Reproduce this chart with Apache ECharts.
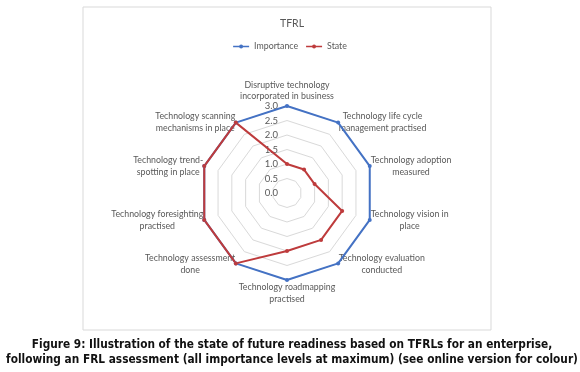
<!DOCTYPE html>
<html>
<head>
<meta charset="utf-8">
<script src="https://cdn.jsdelivr.net/npm/echarts@6/dist/echarts.min.js"></script>
<style>
html,body{margin:0;padding:0;background:#fff;}
#c{width:580px;height:372px;}
</style>
</head>
<body>
<div id="c"></div>
<script>
const categories = [
  "Disruptive technology\nincorporated in business",
  "Technology life cycle\nmanagement practised",
  "Technology adoption\nmeasured",
  "Technology vision in\nplace",
  "Technology evaluation\nconducted",
  "Technology roadmapping\npractised",
  "Technology assessment\ndone",
  "Technology foresighting\npractised",
  "Technology trend-\nspotting in place",
  "Technology scanning\nmechanisms in place"
];
const importanceValues = [3, 3, 3, 3, 3, 3, 3, 3, 3, 3];
const stateValues = [1.0, 1.0, 1.0, 2.0, 2.0, 2.0, 3.0, 3.0, 3.0, 3.0];
const seriesNames = ["Importance", "State"];
const tickLabels = ["0.0", "0.5", "1.0", "1.5", "2.0", "2.5", "3.0"];
const titleText = "TFRL";
const captionText = "Figure 9: Illustration of the state of future readiness based on TFRLs for an enterprise,\nfollowing an FRL assessment (all importance levels at maximum) (see online version for colour)";

// ECharts radar runs counter-clockwise; reorder so categories run clockwise like the reference
const order = categories.map((_, i) => i === 0 ? 0 : categories.length - i);
const reorder = arr => order.map(i => arr[i]);

const chart = echarts.init(document.getElementById('c'), null, {renderer: 'canvas'});
const axisMax = 3;
const indicators = reorder(categories).map((c, i) => {
  const ind = {name: c, max: axisMax, min: 0};
  if (i === 0) { ind.axisLabel = {show: true}; }
  return ind;
});
const labelFont = 'Lato';
const gray = '#595959';
const blue = '#4472C4';
const red = '#BE3B3C';
const legendIcon = 'path://M0,4.3 L16,4.3 L16,5.7 L0,5.7 Z M8,3 A2,2 0 1,1 8,7 A2,2 0 1,1 8,3 Z';
const nameStyle = {align: 'center', fontFamily: labelFont, fontSize: 8.8, color: gray};
chart.setOption({
  animation: false,
  backgroundColor: '#fff',
  color: [blue, red],
  graphic: [{
    type: 'rect',
    shape: {x: 83, y: 7, width: 408, height: 323},
    style: {fill: 'none', stroke: '#d9d9d9', lineWidth: 1}
  }],
  title: [{
    text: titleText,
    left: 287,
    textAlign: 'center',
    top: 13,
    textStyle: {fontFamily: labelFont, fontSize: 10.5, fontWeight: 'normal', color: gray}
  }, {
    text: captionText,
    left: 287,
    top: 332,
    textAlign: 'center',
    textStyle: {fontFamily: 'DejaVu Sans Condensed', fontSize: 11.75, fontWeight: 'bold', color: '#111', lineHeight: 15, align: 'center'}
  }],
  legend: {
    data: seriesNames.map(n => ({name: n, icon: legendIcon})),
    top: 37,
    left: 'center',
    itemWidth: 16,
    itemHeight: 4,
    itemGap: 8,
    textStyle: {fontFamily: labelFont, fontSize: 8.8, color: gray}
  },
  radar: {
    center: [287, 193],
    radius: 87,
    startAngle: 90,
    splitNumber: 6,
    shape: 'polygon',
    axisName: {
      color: gray,
      fontFamily: labelFont,
      fontSize: 8.8,
      lineHeight: 12,
      formatter: function (v) {
        const lines = v.split('\n');
        if (v === categories[0]) {
          return '{t1|' + lines[0] + '}\n{t2|' + lines[1] + '}';
        }
        return lines.map(l => '{c|' + l + '}').join('\n');
      },
      rich: {
        c: Object.assign({lineHeight: 12}, nameStyle),
        t1: Object.assign({lineHeight: 20, padding: [4, 0, 0, 0]}, nameStyle),
        t2: Object.assign({lineHeight: 2, padding: [4, 0, 0, 0]}, nameStyle)
      }
    },
    nameGap: 1,
    axisLine: {show: false},
    axisTick: {show: false},
    axisLabel: {
      show: false,
      fontFamily: labelFont,
      fontSize: 9.5,
      color: gray,
      margin: 9,
      formatter: function (v) { return tickLabels[Math.round(v * 2)] || v.toFixed(1); }
    },
    splitLine: {lineStyle: {color: '#d9d9d9', width: 1}},
    splitArea: {show: false},
    indicator: indicators
  },
  series: [{
    type: 'radar',
    symbol: 'circle',
    symbolSize: 4,
    data: [{
      name: seriesNames[0],
      value: reorder(importanceValues),
      lineStyle: {color: blue, width: 2},
      itemStyle: {color: blue}
    }, {
      name: seriesNames[1],
      value: reorder(stateValues),
      lineStyle: {color: red, width: 2},
      itemStyle: {color: red}
    }]
  }]
});
</script>
</body>
</html>
